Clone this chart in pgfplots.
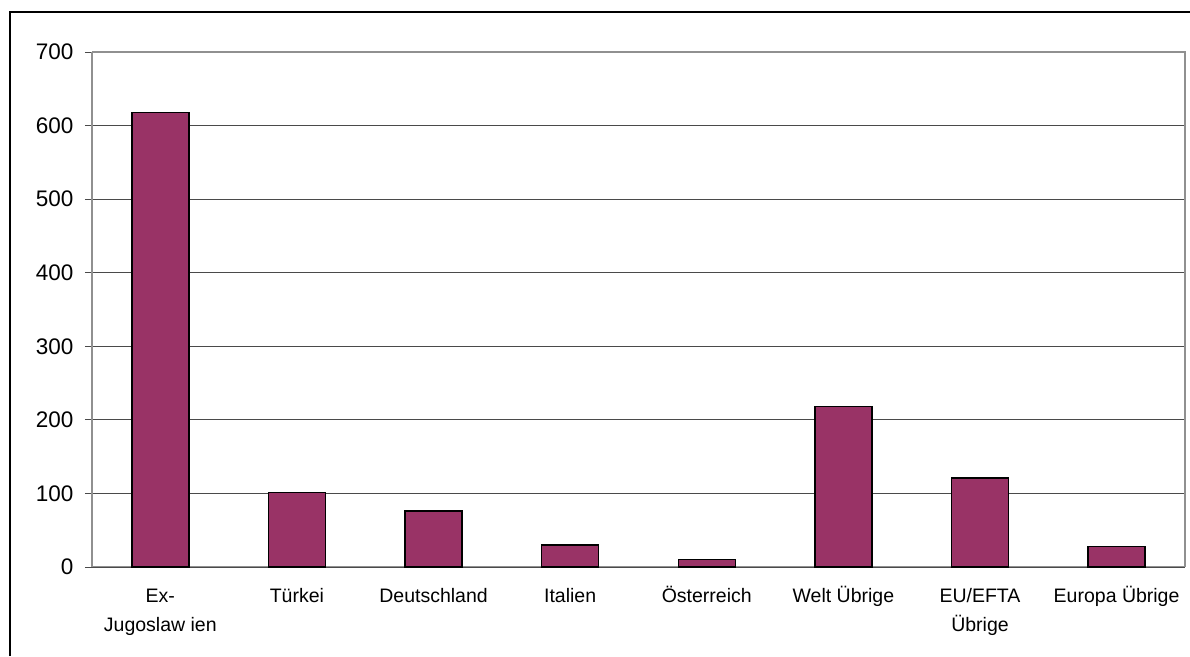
\documentclass[border=0pt]{standalone}
\usepackage{pgfplots}
\pgfplotsset{compat=1.18}
\usepackage{fontspec}
\setmainfont{Liberation Sans}
\definecolor{barcol}{HTML}{993366}
\definecolor{gridcol}{HTML}{4A4A4A}
\definecolor{boxcol}{HTML}{909090}
\newcommand{\up}{\vphantom{\"U}}
\begin{document}
\begin{tikzpicture}[x=1pt,y=1pt]
\path[use as bounding box] (0,0) rectangle (1190,656);
\draw[line width=2.2pt] (10,0) -- (10,644) -- (1195,644);
\begin{axis}[
  at={(92pt,89pt)}, anchor=south west,
  scale only axis, width=1093pt, height=515pt,
  xmin=-0.5, xmax=7.5, ymin=0, ymax=700,
  ytick={0,100,...,700},
  xtick={0,...,7},
  xticklabels={{\up Ex-\\Jugoslaw ien},\up T\"urkei,\up Deutschland,\up Italien,\up\"Osterreich,\up Welt \"Ubrige,{\up EU/EFTA\\\"Ubrige},\up Europa \"Ubrige},
  xticklabel style={align=center, font=\fontsize{19.5}{29}\selectfont, yshift=-9pt},
  extra x ticks={0.5,1.5,...,6.5},
  extra x tick labels={},
  extra x tick style={major tick length=7pt, tick style={gridcol, line width=0.8pt}, xticklabel style={}},
  xtick style={draw=none},
  ymajorgrids, grid style={gridcol, line width=0.8pt},
  axis line style={boxcol, line width=1.2pt},
  axis x line*=bottom,
  axis y line*=left,
  ytick style={gridcol, line width=0.8pt},
  major tick length=7pt,
  tick align=outside,
  yticklabel style={font=\fontsize{22.5}{26}\selectfont, xshift=-8pt},
  /pgf/number format/assume math mode=true,
  clip=false,
]
\draw[boxcol, line width=1.6pt] (axis cs:-0.5,700) -- (axis cs:7.5,700) -- (axis cs:7.5,0);
\draw[gridcol, line width=1pt] (axis cs:-0.5,0) -- (axis cs:7.5,0);
\addplot[ybar, bar width=57pt, fill=barcol, draw=black, line width=1.4pt] coordinates {
(0,618) (1,101) (2,76) (3,30) (4,10) (5,218) (6,121) (7,28)
};
\end{axis}
\end{tikzpicture}
\end{document}
